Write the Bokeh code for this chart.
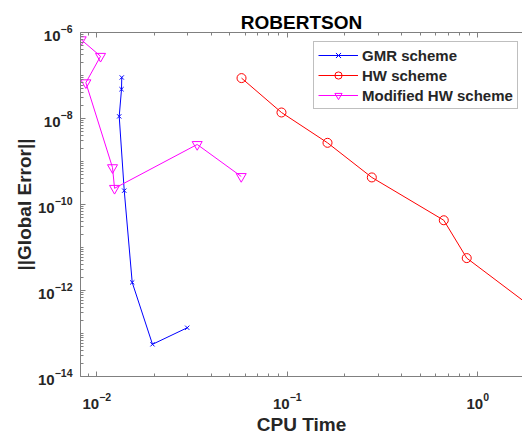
from bokeh.plotting import figure
from bokeh.models import LogAxis, FixedTicker, Legend, LegendItem, Range1d
from bokeh.embed import file_html
from bokeh.resources import INLINE

# ---- data ----
gmr_time = [0.01352, 0.01348, 0.01311, 0.01393, 0.01534, 0.0196, 0.02983]
gmr_err = [9.0e-8, 4.8e-8, 1.12e-8, 2.1e-10, 1.54e-12, 5.6e-14, 1.36e-13]

hw_time = [0.0575, 0.0932, 0.1626, 0.2778, 0.663, 0.875, 2.2]
hw_err = [8.7e-8, 1.38e-8, 2.72e-9, 4.26e-10, 4.3e-11, 5.67e-12, 2.6e-13]

mhw_time = [0.00828, 0.01046, 0.00876, 0.01209, 0.01239, 0.03365, 0.0573]
mhw_err = [6.8e-7, 2.8e-7, 6.8e-8, 7.2e-10, 2.38e-10, 2.49e-9, 4.49e-10]

x_major = [1e-2, 1e-1, 1e0]
y_major = [1e-14, 1e-12, 1e-10, 1e-8, 1e-6]

series_names = ["GMR scheme", "HW scheme", "Modified HW scheme"]
title_text = "ROBERTSON"

FONT = "Liberation Sans"
AXIS_COLOR = "#808080"
TEXT_COLOR = "#262626"

x_minor = [k * 10.0 ** n for n in range(-3, 1) for k in range(1, 10)]
y_minor = [k * 10.0 ** n for n in range(-14, -6) for k in range(1, 10)]

p = figure(width=522, height=437, x_axis_type="log", y_axis_type="log",
           x_range=Range1d(0.00821, 1.717), y_range=Range1d(1e-14, 1e-6),
           output_backend="svg", toolbar_location=None, title_location=None,
           min_border_left=80, min_border_right=0, min_border_top=32,
           min_border_bottom=58)
p.outline_line_color = None
p.grid.visible = False
p.background_fill_color = "white"

for ax, ticks, minor in ((p.xaxis[0], x_major, x_minor), (p.yaxis[0], y_major, y_minor)):
    ax.ticker = FixedTicker(ticks=ticks, minor_ticks=minor)
    ax.axis_line_color = AXIS_COLOR
    ax.major_tick_line_color = AXIS_COLOR
    ax.minor_tick_line_color = AXIS_COLOR
    ax.major_tick_in = 5
    ax.major_tick_out = 0
    ax.minor_tick_in = 3
    ax.minor_tick_out = 0
    ax.major_label_text_font = FONT
    ax.major_label_text_font_size = "15px"
    ax.major_label_text_font_style = "bold"
    ax.major_label_text_color = TEXT_COLOR
    ax.axis_label_text_font = FONT
    ax.axis_label_text_font_size = "19px"
    ax.axis_label_text_font_style = "bold"
    ax.axis_label_text_color = TEXT_COLOR

p.xaxis.axis_label = "CPU Time"
p.yaxis.axis_label = "||Global Error||"
p.xaxis.major_label_standoff = 16
p.yaxis.major_label_standoff = 8
p.xaxis.axis_label_standoff = 2
p.yaxis.axis_label_standoff = 0

# top box edge carrying the title
top = LogAxis(ticker=FixedTicker(ticks=x_major, minor_ticks=x_minor),
              axis_line_color=AXIS_COLOR, major_tick_line_color=AXIS_COLOR,
              minor_tick_line_color=AXIS_COLOR, major_tick_in=5, major_tick_out=0,
              minor_tick_in=3, minor_tick_out=0, major_label_text_font_size="8px",
              major_label_text_alpha=0, major_label_standoff=0,
              axis_label=title_text, axis_label_text_font=FONT,
              axis_label_text_font_size="19px", axis_label_text_font_style="bold",
              axis_label_text_color="black", axis_label_standoff=0)
p.add_layout(top, "above")

l1 = p.line(gmr_time, gmr_err, line_color="#0000ff", line_width=1)
m1 = p.scatter(gmr_time, gmr_err, marker="x", size=6, line_color="#0000ff")
l2 = p.line(hw_time, hw_err, line_color="#ff0000", line_width=1)
m2 = p.scatter(hw_time, hw_err, marker="circle", size=9, line_color="#ff0000", fill_color=None)
l3 = p.line(mhw_time, mhw_err, line_color="#ff00ff", line_width=1)
m3 = p.scatter(mhw_time, mhw_err, marker="inverted_triangle", size=10, line_color="#ff00ff", fill_color=None)

legend = Legend(items=[LegendItem(label=series_names[0], renderers=[l1, m1]),
                       LegendItem(label=series_names[1], renderers=[l2, m2]),
                       LegendItem(label=series_names[2], renderers=[l3, m3])],
                location=(233, 267), margin=0,
                label_text_font=FONT, label_text_font_size="15px",
                label_text_font_style="bold", label_text_color=TEXT_COLOR,
                border_line_color=AXIS_COLOR, border_line_width=1,
                glyph_width=40, glyph_height=18, label_standoff=4, padding=4,
                spacing=2, label_height=18)
p.add_layout(legend, "center")

open("out.html", "w").write(file_html(p, INLINE))
